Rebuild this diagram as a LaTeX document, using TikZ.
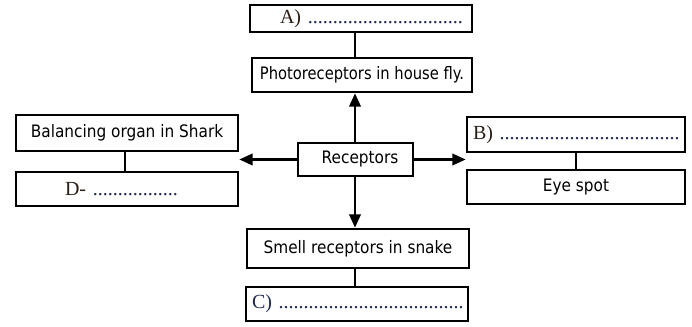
\documentclass[tikz,border=0pt]{standalone}
\usepackage{fontspec}
\setmainfont{DejaVu Sans}
\newfontfamily\lblserif{Liberation Serif}
\usetikzlibrary{arrows.meta}
\definecolor{lblink}{HTML}{2A1E16}
\definecolor{dotink}{HTML}{1C2850}
\newcommand\dotrow[1]{\textcolor{dotink}{\foreach\i in {1,...,#1}{.}}}
\newcommand\tall[2][1]{\scalebox{#1}[1.12]{#2}}
\tikzset{
  box/.style={draw=black, line width=1.9pt, inner sep=0pt, fill=white,
     font=\fontsize{11.5}{13.5}\selectfont},
  lbox/.style={box, align=left, font=\lblserif\fontsize{15}{16}\selectfont},
  conn/.style={line width=1.9pt},
  arr/.style={line width=1.9pt, -{Triangle[length=10pt,width=8.5pt]}},
}
\begin{document}
\begin{tikzpicture}[x=0.75pt,y=-0.75pt]
\useasboundingbox (0,0) rectangle (692,327);
\coordinate (xc) at (355,0);
% top
\node[lbox, minimum width=166.5pt, text width=166.5pt, minimum height=20.25pt] (A) at (361,18.5)
  {\hspace*{22.5pt}\textcolor{lblink}{A)} \dotrow{31}};
\node[box, minimum width=165pt, minimum height=25.5pt] (P) at (362,75)
  {\tall[0.96]{Photoreceptors in house fly.}};
% centre
\node[box, minimum width=86.25pt, minimum height=24.75pt] (R) at (355.5,159.5)
  {\hspace*{6.75pt}\tall{Receptors}};
% left
\node[box, minimum width=166.5pt, minimum height=27pt] (Bal) at (127,133)
  {\tall{Balancing organ in Shark}};
\node[lbox, minimum width=166.5pt, text width=166.5pt, minimum height=25.5pt] (D) at (127,189)
  {\hspace*{36.75pt}\textcolor{lblink}{D-} \dotrow{17}};
% right
\node[lbox, minimum width=163.5pt, text width=163.5pt, minimum height=26.25pt] (B) at (576,134.5)
  {\hspace*{4.5pt}\textcolor{lblink}{B)} \dotrow{36}};
\node[box, minimum width=163.5pt, minimum height=25.5pt] (E) at (576,187)
  {\tall{Eye spot}};
% bottom
\node[box, minimum width=166.5pt, minimum height=29.25pt] (S) at (358,248.5)
  {\tall{Smell receptors in snake}};
\node[lbox, minimum width=166.5pt, text width=166.5pt, minimum height=25.5pt] (C) at (357,304)
  {\hspace*{4.5pt}\textcolor{dotink}{C)} \dotrow{37}};
% connectors
\draw[conn] (A.south -| xc) -- (P.north -| xc);
\draw[conn] ([xshift=-1.5pt]Bal.south) -- ([xshift=-1.5pt]D.north);
\draw[conn] (B.south) -- (E.north);
\draw[conn] (S.south -| xc) -- (C.north -| xc);
% arrows
\draw[arr] (R.north -| xc) -- (P.south -| xc);
\draw[arr] (R.south -| xc) -- (S.north -| xc);
\draw[arr] (R.west) -- (R.west -| Bal.east);
\draw[arr] (R.east) -- (R.east -| B.west);
\end{tikzpicture}
\end{document}
